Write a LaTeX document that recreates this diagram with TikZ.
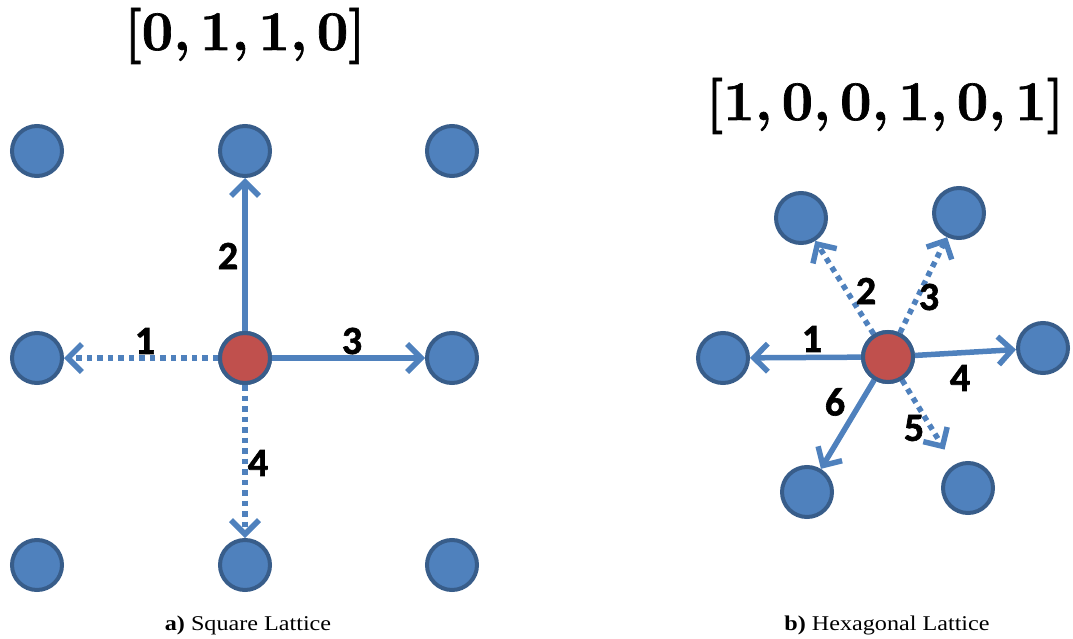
\documentclass[tikz,border=0pt]{standalone}
\usepackage{fontspec}
\newfontfamily\numfont[FakeBold=1.5]{Carlito}
\newfontfamily\vecfont[FakeBold=1.2]{Latin Modern Roman}
\newfontfamily\capfont[FakeStretch=1.15]{Liberation Serif}
\usepackage{tikz}
\usetikzlibrary{positioning}
\usetikzlibrary{arrows.meta}
\definecolor{siteblue}{RGB}{79,129,189}
\definecolor{siteedge}{RGB}{56,93,138}
\definecolor{sitered}{RGB}{192,80,77}
\tikzset{
site/.style={circle, draw=siteedge, fill=siteblue, line width=4pt, minimum size=50pt, inner sep=0pt},
origin/.style={site, fill=sitered},
bond/.style={draw=siteblue, line width=5.5pt, -{Straight Barb[length=14pt,width=28pt]}},
nobond/.style={bond, dash pattern=on 5.5pt off 5pt},
bond_label/.style={font=\numfont\bfseries\fontsize{40}{44}\selectfont, inner sep=0pt},
vector/.style={font=\vecfont\bfseries\fontsize{56}{60}\selectfont, inner sep=0pt, anchor=base},
caption/.style={font=\capfont\fontsize{21}{25}\selectfont, inner sep=0pt, anchor=base}
}
\begin{document}
\begin{tikzpicture}[x=1pt, y=-1pt]
    \useasboundingbox (0,0) rectangle (1073,639);
    % square lattice
    \node[origin] (sq_c) at (245,358) {};
    \node[site] (sq_n) [above=153pt of sq_c] {};
    \node[site] (sq_s) [below=153pt of sq_c] {};
    \node[site] (sq_w) [left=154pt of sq_c] {};
    \node[site] (sq_e) [right=153pt of sq_c] {};
    \node[site] (sq_nw) [above=153pt of sq_w] {};
    \node[site] (sq_ne) [above=153pt of sq_e] {};
    \node[site] (sq_sw) [below=153pt of sq_w] {};
    \node[site] (sq_se) [below=153pt of sq_e] {};

    \draw[nobond] (sq_c) -- (sq_w);
    \draw[bond] (sq_c) -- (sq_n);
    \draw[bond] (sq_c) -- (sq_e);
    \draw[nobond] (sq_c) -- (sq_s);
    \node[origin] at (sq_c) {};

    \node[bond_label] (sq_l1) at (145,341) {1};
    \node[bond_label] (sq_l2) at (228,256) {2};
    \node[bond_label] (sq_l3) at (352,341) {3};
    \node[bond_label] (sq_l4) at (258,463) {4};

    \node[vector] (sq_vec) at (245,50) {[0,\,1,\,1,\,0]};
    \node[caption] (sq_cap) at (248,630) {\textbf{a)} Square Lattice};

    % hexagonal lattice
    \node[origin] (hx_c) at (888,357) {};
    \node[site] (hx_1) at (723,358) {};
    \node[site] (hx_2) at (801,218) {};
    \node[site] (hx_3) at (959,213) {};
    \node[site] (hx_4) at (1043,348) {};
    \node[site] (hx_5) at (968,488) {};
    \node[site] (hx_6) at (807,492) {};

    \draw[bond] (hx_c) -- (hx_1);
    \draw[nobond] (hx_c) -- (hx_2);
    \draw[nobond] (hx_c) -- (hx_3);
    \draw[bond] (hx_c) -- (hx_4);
    \draw[nobond, shorten >=18pt] (hx_c) -- (hx_5);
    \draw[bond] (hx_c) -- (hx_6);
    \node[origin] at (hx_c) {};

    \node[bond_label] (hx_l1) at (812,339) {1};
    \node[bond_label] (hx_l2) at (866,291) {2};
    \node[bond_label] (hx_l3) at (929,297) {3};
    \node[bond_label] (hx_l4) at (960,378) {4};
    \node[bond_label] (hx_l5) at (914,428) {5};
    \node[bond_label] (hx_l6) at (835,402) {6};

    \node[vector] (hx_vec) at (885,120) {[1,\,0,\,0,\,1,\,0,\,1]};
    \node[caption] (hx_cap) at (887,630) {\textbf{b)} Hexagonal Lattice};
\end{tikzpicture}
\end{document}
